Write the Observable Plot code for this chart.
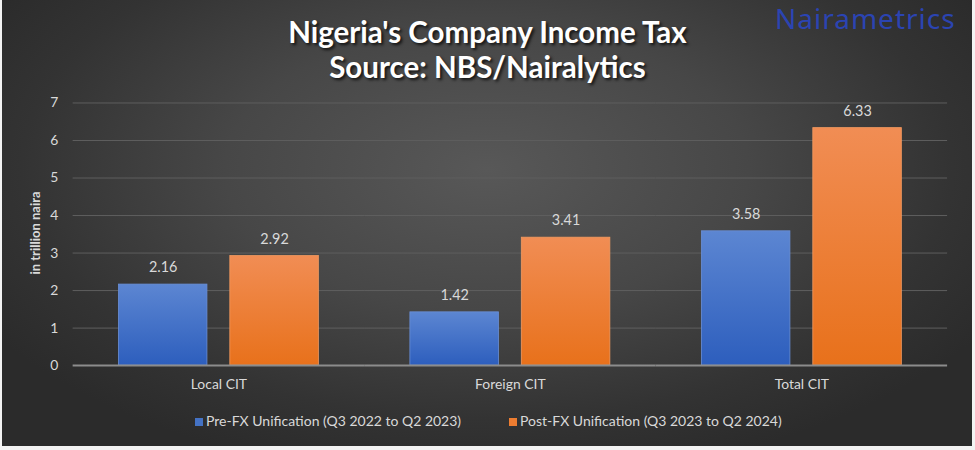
<!DOCTYPE html>
<html>
<head>
<meta charset="utf-8">
<script src="https://cdn.jsdelivr.net/npm/d3@7"></script>
<script src="https://cdn.jsdelivr.net/npm/@observablehq/plot@0.6"></script>
<style>
  html, body { margin: 0; padding: 0; background: #f3f3f3; width: 975px; height: 450px; overflow: hidden; }
  #wrap { position: absolute; left: 2px; top: 0; width: 970px; height: 446px;
    background: radial-gradient(ellipse 60% 70% at 50% 38%, #585858 0%, #474747 45%, #333333 80%, #2b2b2b 100%);
    font-family: Lato, "Open Sans", sans-serif; }
  #chart { position: absolute; left: -2px; top: 2px; display: block; }
  .title { position: absolute; left: 0; width: 975px; text-align: center; color: #fff; font-weight: bold;
    font-size: 29.5px; line-height: 35px; text-shadow: 2px 2px 3px rgba(0,0,0,0.75); white-space: nowrap; }
  #wm { position: absolute; left: 773px; top: 3px; line-height: 30px; color: #2b44b2; font-size: 28px; font-family: "Noto Sans", sans-serif; letter-spacing: 1px; white-space: nowrap; }
  #ylab { position: absolute; left: 33px; top: 233px; transform: translate(-50%, -50%) rotate(-90deg);
    color: #d9d9d9; font-size: 13px; font-weight: bold; white-space: nowrap; }
  .leg { position: absolute; top: 412px; color: #d9d9d9; font-size: 14px; white-space: nowrap; line-height: 18px; }
  .sw { display: inline-block; width: 8px; height: 8px; margin-right: 3px; vertical-align: 0px; }
</style>
</head>
<body>
<div id="wrap"></div>
<script>
const categories = ["Local CIT", "Foreign CIT", "Total CIT"];
const seriesNames = ["Pre-FX Unification (Q3 2022 to Q2 2023)", "Post-FX Unification (Q3 2023 to Q2 2024)"];
const preFX = [2.16, 1.42, 3.58];
const postFX = [2.92, 3.41, 6.33];
const yTicks = [0, 1, 2, 3, 4, 5, 6, 7];
const title1 = "Nigeria's Company Income Tax";
const title2 = "Source: NBS/Nairalytics";
const yLabel = "in trillion naira";
const watermark = "Nairametrics";

const rows = [];
categories.forEach((c, i) => {
  rows.push({category: c, series: seriesNames[0], value: preFX[i]});
  rows.push({category: c, series: seriesNames[1], value: postFX[i]});
});

const chart = Plot.plot({
  width: 975,
  height: 446,
  marginLeft: 72,
  marginRight: 23,
  marginTop: 101,
  marginBottom: 81,
  style: {fontFamily: "Lato, 'Open Sans', sans-serif", background: "transparent", color: "#d9d9d9"},
  fx: {domain: categories, padding: 0},
  x: {domain: seriesNames, paddingInner: 0.205, paddingOuter: 0.41, axis: null},
  y: {domain: [0, 7], ticks: yTicks},
  marks: [
    Plot.ruleY(yTicks.slice(1), {stroke: "#5f5f5f", strokeWidth: 1}),
    Plot.axisY(yTicks, {tickSize: 0, tickPadding: 15, fontSize: 14, fill: "#d9d9d9", label: null}),
    Plot.barY(rows.filter(d => d.series === seriesNames[0]), {fx: "category", x: "series", y: "value", fill: "url(#gBlue)", stroke: "#6a8fd6", strokeWidth: 0.8}),
    Plot.barY(rows.filter(d => d.series === seriesNames[1]), {fx: "category", x: "series", y: "value", fill: "url(#gOrange)", stroke: "#f39a60", strokeWidth: 0.8}),
    Plot.ruleY([0], {stroke: "#8c8c8c", strokeWidth: 2}),
    Plot.text(rows, {fx: "category", x: "series", y: "value", text: d => d.value.toFixed(2), dy: -17, fill: "#d9d9d9", fontSize: 14.5}),
    Plot.axisFx({anchor: "bottom", tickSize: 0, tickPadding: 14, fontSize: 14, fill: "#d9d9d9", label: null})
  ]
});
chart.id = "chart";

// gradients
const svg = d3.select(chart);
const defs = svg.insert("defs", ":first-child");
function grad(id, top, bottom) {
  const g = defs.append("linearGradient").attr("id", id).attr("x1", 0).attr("y1", 0).attr("x2", 0).attr("y2", 1);
  g.append("stop").attr("offset", "0%").attr("stop-color", top);
  g.append("stop").attr("offset", "100%").attr("stop-color", bottom);
}
grad("gBlue", "#5c86d2", "#2d5ebd");
grad("gOrange", "#f18d54", "#e8711b");

const wrap = document.getElementById("wrap");
wrap.appendChild(chart);

function addDiv(cls, id, text, style) {
  const d = document.createElement("div");
  if (cls) d.className = cls;
  if (id) d.id = id;
  if (text != null) d.textContent = text;
  if (style) Object.assign(d.style, style);
  wrap.appendChild(d);
  return d;
}
addDiv("title", null, title1, {top: "14px", left: "-2px"});
addDiv("title", null, title2, {top: "49px", left: "-2px"});
addDiv(null, "wm", watermark);
addDiv(null, "ylab", yLabel);

const colors = ["#4472c4", "#ed7d31"];
const legX = [193, 507];
seriesNames.forEach((s, i) => {
  const d = addDiv("leg", null, null, {left: legX[i] + "px"});
  const sw = document.createElement("span");
  sw.className = "sw";
  sw.style.background = colors[i];
  d.appendChild(sw);
  d.appendChild(document.createTextNode(s));
});
</script>
</body>
</html>
